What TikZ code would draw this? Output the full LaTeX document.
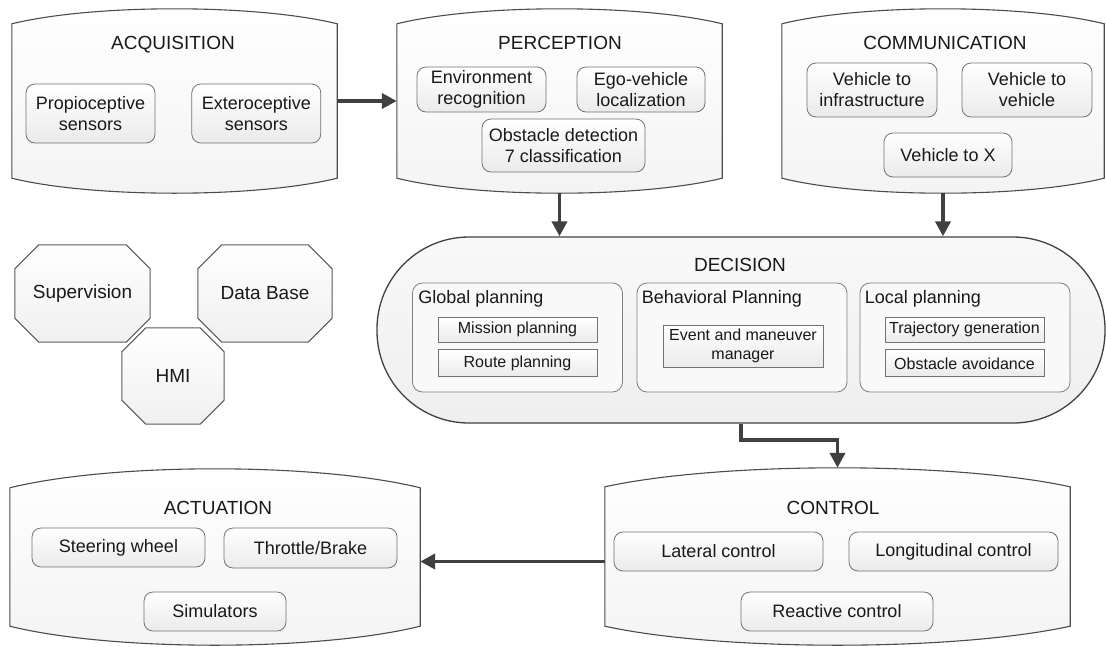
\documentclass[tikz,border=0pt]{standalone}
\usepackage{fontspec}
\setmainfont{Liberation Sans}
\usetikzlibrary{calc,positioning,arrows.meta,backgrounds}

% outline of a panel with bulged top and bottom: node name, bulge
\newcommand{\panelbox}[2]{%
  \draw[panelline] ($(#1.north west)+(0,#2)$)
    .. controls ($(#1.north west)!0.25!(#1.north east)+(0,-#2/3)$) and ($(#1.north west)!0.75!(#1.north east)+(0,-#2/3)$) .. ($(#1.north east)+(0,#2)$)
    -- ($(#1.south east)+(0,-#2)$)
    .. controls ($(#1.south east)!0.25!(#1.south west)+(0,#2/3)$) and ($(#1.south east)!0.75!(#1.south west)+(0,#2/3)$) .. ($(#1.south west)+(0,-#2)$)
    -- cycle;}
% octagon outline behind a node
\newcommand{\octbox}[1]{%
  \begin{scope}[on background layer]
    \draw[octline] ($(#1.north west)+(24,0)$) -- ($(#1.north east)+(-24,0)$) -- ($(#1.north east)+(0,24)$)
      -- ($(#1.south east)+(0,-24)$) -- ($(#1.south east)+(-24,0)$) -- ($(#1.south west)+(24,0)$)
      -- ($(#1.south west)+(0,-24)$) -- ($(#1.north west)+(0,24)$) -- cycle;
  \end{scope}}

\begin{document}
\begin{tikzpicture}[x=1pt, y=-1pt]
    % Define styles
    \tikzstyle{panel} = [rectangle, inner sep=0pt]
    \tikzstyle{panelline} = [draw=black!70, line width=1.1pt, top color=white, bottom color=gray!9]
    \tikzstyle{title} = [text=black!90, font=\fontsize{19}{22}\selectfont]
    \tikzstyle{unit} = [rectangle, rounded corners=9pt, draw=black!55, line width=0.8pt, top color=white, bottom color=gray!16, inner sep=0pt, align=center, text=black!90, font=\fontsize{18}{21}\selectfont]
    \tikzstyle{stadium} = [rectangle, rounded corners=92pt, draw=black!75, line width=1.3pt, top color=gray!5, bottom color=gray!13, minimum width=728pt, minimum height=186pt]
    \tikzstyle{plan} = [rectangle, rounded corners=10pt, draw=black!50, line width=0.8pt, fill=gray!5, minimum width=210pt, minimum height=109pt]
    \tikzstyle{plantitle} = [anchor=west, inner sep=0pt, text=black!90, font=\fontsize{18}{21}\selectfont]
    \tikzstyle{task} = [rectangle, draw=black!55, line width=0.8pt, top color=white, bottom color=gray!16, minimum width=159pt, inner sep=0pt, align=center, text=black!90, font=\fontsize{16}{19}\selectfont]
    \tikzstyle{oct} = [rectangle, inner sep=0pt, text=black!90, font=\fontsize{19}{22}\selectfont]
    \tikzstyle{octline} = [draw=black!65, line width=1pt, top color=white, bottom color=gray!12]
    \tikzstyle{flow} = [-{Triangle[length=15pt,width=15pt]}, line width=3.8pt, draw=black!75]

    \useasboundingbox (0,0) rectangle (1106,646);

    % Acquisition
    \node[panel, minimum width=325pt, minimum height=184pt] (acq) at (174.5,101) {};
    \panelbox{acq}{15}
    \node[title] (acqt) at (173,45) {ACQUISITION};
    \node[unit, minimum width=129pt, minimum height=59pt] (prop) at (90.5,113.5) {Propioceptive\\sensors};
    \node[unit, minimum width=129pt, minimum height=59pt, right=36pt of prop] (exte) {Exteroceptive\\sensors};

    % Perception
    \node[panel, minimum width=325pt, minimum height=184pt] (per) at (559.5,101) {};
    \panelbox{per}{15}
    \node[title] (pert) at (560,43) {PERCEPTION};
    \node[unit, minimum width=129pt, minimum height=45pt] (env) at (481.5,89.5) {Environment\\recognition};
    \node[unit, minimum width=128pt, minimum height=45pt] (ego) at (641,89.5) {Ego-vehicle\\localization};
    \node[unit, minimum width=163pt, minimum height=53pt] (obst) at (563.5,145.5) {Obstacle detection\\7 classification};

    % Communication
    \node[panel, minimum width=322pt, minimum height=184pt] (com) at (943,101) {};
    \panelbox{com}{15}
    \node[title] (comt) at (945,43) {COMMUNICATION};
    \node[unit, minimum width=130pt, minimum height=54pt] (vtoi) at (872,90) {Vehicle to\\infrastructure};
    \node[unit, minimum width=130pt, minimum height=54pt] (vtov) at (1027,90) {Vehicle to\\vehicle};
    \node[unit, minimum width=128pt, minimum height=44pt] (vtox) at (948,155) {Vehicle to X};

    % Side modules
    \node[oct, minimum width=135pt, minimum height=97pt] (sup) at (82.5,293.5) {Supervision\hspace{14pt}};
    \octbox{sup}
    \node[oct, minimum width=134pt, minimum height=97pt] (dbase) at (265,293.5) {Data Base};
    \octbox{dbase}
    \node[oct, minimum width=102pt, minimum height=96pt] (hmi) at (173,376) {HMI};
    \octbox{hmi}

    % Decision
    \node[stadium] (dec) at (741,330) {};
    \node[title] (dect) at (740,265) {DECISION};
    \node[plan] (glob) at (517.5,337.5) {};
    \node[plan] (beh) at (742,337.5) {};
    \node[plan] (loc) at (965,337.5) {};
    \node[plantitle] (globt) at ($(glob.north west)+(6,16)$) {Global planning};
    \node[plantitle] (beht) at ($(beh.north west)+(5,16)$) {Behavioral Planning};
    \node[plantitle] (loct) at ($(loc.north west)+(5,16)$) {Local planning};
    \node[task, minimum height=25pt] (miss) at (517.5,329.5) {Mission planning};
    \node[task, minimum height=27pt, below=7pt of miss] (route) {Route planning};
    \node[task, minimum width=160pt, minimum height=42pt] (event) at (743,346) {Event and maneuver\\manager};
    \node[task, minimum height=25pt] (traj) at (964.5,329.5) {Trajectory generation};
    \node[task, minimum height=27pt, below=7pt of traj] (obav) {Obstacle avoidance};

    % Actuation
    \node[panel, minimum width=410pt, minimum height=176pt] (act) at (215,557) {};
    \panelbox{act}{19}
    \node[title] (actt) at (218,508) {ACTUATION};
    \node[unit, minimum width=173pt, minimum height=39pt] (steer) at (118.5,547.5) {Steering wheel};
    \node[unit, minimum width=173pt, minimum height=40pt] (throt) at (310.5,548) {\raisebox{-3pt}{Throttle/Brake}};
    \node[unit, minimum width=142pt, minimum height=39pt] (simu) at (215,611.5) {Simulators};

    % Control
    \node[panel, minimum width=465pt, minimum height=177pt] (ctl) at (837.5,556.5) {};
    \panelbox{ctl}{19}
    \node[title] (ctlt) at (833,508) {CONTROL};
    \node[unit, minimum width=209pt, minimum height=39pt] (lat) at (718.5,551.5) {Lateral control};
    \node[unit, minimum width=209pt, minimum height=39pt] (lon) at (953.5,551.5) {Longitudinal control};
    \node[unit, minimum width=192pt, minimum height=39pt] (reac) at (837,611.5) {Reactive control};

    % Data flow
    \draw[flow] (acq.east) -- (per.west);
    \draw[flow] (per.south) -- (per.south |- dec.north);
    \draw[flow] (com.south) -- (com.south |- dec.north);
    \draw[flow] (dec.south) -- ++(0,16) -| (ctl.north);
    \draw[flow] ([yshift=-5pt]ctl.west) -- ([yshift=-5pt]ctl.west -| act.east);
\end{tikzpicture}
\end{document}
